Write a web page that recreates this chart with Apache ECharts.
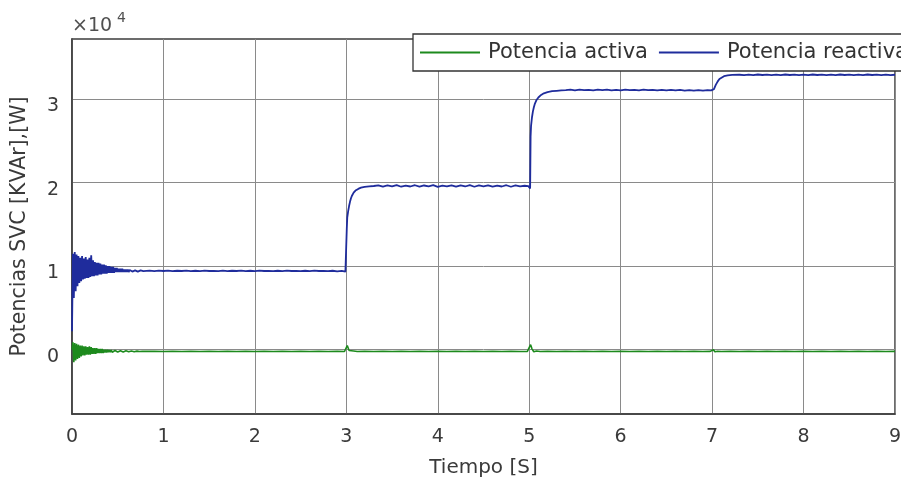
<!DOCTYPE html>
<html>
<head>
<meta charset="utf-8">
<script src="https://cdn.jsdelivr.net/npm/echarts@6/dist/echarts.min.js"></script>
<style>
  html, body { margin: 0; padding: 0; background: #ffffff; }
  #chart { width: 901px; height: 482px; }
</style>
</head>
<body>
<div id="chart"></div>
<script>
// Potencias del SVC (valores en unidades de 10^4), tiempo en segundos
const FONT = 'DejaVu Sans';

const xTicks = [0, 1, 2, 3, 4, 5, 6, 7, 8, 9];
const yTicks = [0, 1, 2, 3];
const yRango = [-0.77, 3.72];
const exponente = '4';

const nombres = ['Potencia activa', 'Potencia reactiva'];
const colores = ['#1d8a1d', '#1f2c9c'];

// Potencia activa [W] x 10^4 : pares [t, P]
const potActiva = [
  [0.00, 0.00], [0.01, 0.09], [0.02, -0.15], [0.03, 0.08], [0.04, -0.13], [0.05, 0.07], [0.06, -0.11], [0.07, 0.06], [0.08, -0.10], [0.09, 0.05],
  [0.10, -0.08], [0.11, 0.05], [0.12, -0.07], [0.13, 0.04], [0.14, -0.07], [0.15, 0.04], [0.16, -0.06], [0.17, 0.03], [0.18, -0.06], [0.19, 0.04],
  [0.20, -0.06], [0.21, 0.03], [0.22, -0.05], [0.23, 0.02], [0.24, -0.05], [0.25, 0.02], [0.26, -0.05], [0.27, 0.02], [0.28, -0.04], [0.29, 0.01],
  [0.30, -0.04], [0.31, 0.01], [0.32, -0.04], [0.33, 0.01], [0.34, -0.04], [0.35, 0.00], [0.36, -0.035], [0.37, 0.00], [0.38, -0.035], [0.39, 0.00],
  [0.40, -0.03], [0.41, -0.005], [0.42, -0.03], [0.43, -0.005], [0.44, -0.03], [0.45, -0.01], [0.46, -0.03], [0.47, -0.01], [0.48, -0.03], [0.49, -0.01],
  [0.50, -0.028], [0.51, -0.012], [0.52, -0.028], [0.53, -0.012], [0.54, -0.027], [0.55, -0.013], [0.56, -0.027], [0.57, -0.013], [0.58, -0.026], [0.59, -0.014],
  [0.60, -0.026], [0.61, -0.014], [0.62, -0.025], [0.63, -0.015], [0.64, -0.025], [0.65, -0.015], [0.66, -0.024], [0.67, -0.016], [0.68, -0.024], [0.69, -0.016],
  [0.70, -0.023], [0.71, -0.017], [0.72, -0.023], [0.73, -0.017], [0.74, -0.022], [0.75, -0.018], [0.76, -0.022], [0.77, -0.018], [0.78, -0.021], [0.79, -0.019],
  [0.80, -0.020], [0.90, -0.018], [1.00, -0.022], [1.10, -0.019], [1.20, -0.021], [1.30, -0.018], [1.40, -0.022], [1.50, -0.019], [1.60, -0.021], [1.70, -0.018],
  [1.80, -0.022], [1.90, -0.019], [2.00, -0.021], [2.10, -0.018], [2.20, -0.022], [2.30, -0.019], [2.40, -0.021], [2.50, -0.018], [2.60, -0.022], [2.70, -0.019],
  [2.80, -0.021], [2.90, -0.018], [2.98, -0.022], [3.00, -0.020], [3.01, 0.05], [3.02, 0.02], [3.03, -0.01], [3.05, -0.025], [3.08, -0.015], [3.12, -0.022],
  [3.20, -0.019], [3.30, -0.021], [3.40, -0.018], [3.50, -0.022], [3.60, -0.019], [3.70, -0.021], [3.80, -0.018], [3.90, -0.022], [4.00, -0.019], [4.10, -0.021],
  [4.20, -0.018], [4.30, -0.022], [4.40, -0.019], [4.50, -0.021], [4.60, -0.018], [4.70, -0.022], [4.80, -0.019], [4.90, -0.021], [4.98, -0.020], [5.00, -0.020],
  [5.015, 0.06], [5.03, 0.01], [5.05, -0.025], [5.08, -0.015], [5.12, -0.022], [5.20, -0.019], [5.30, -0.021], [5.40, -0.018], [5.50, -0.022], [5.60, -0.019],
  [5.70, -0.021], [5.80, -0.018], [5.90, -0.022], [6.00, -0.019], [6.10, -0.021], [6.20, -0.018], [6.30, -0.022], [6.40, -0.019], [6.50, -0.021], [6.60, -0.018],
  [6.70, -0.022], [6.80, -0.019], [6.90, -0.021], [6.98, -0.020], [7.00, -0.020], [7.015, 0.00], [7.03, -0.025], [7.06, -0.018], [7.10, -0.021], [7.20, -0.019],
  [7.30, -0.021], [7.40, -0.018], [7.50, -0.022], [7.60, -0.019], [7.70, -0.021], [7.80, -0.018], [7.90, -0.022], [8.00, -0.019], [8.10, -0.021], [8.20, -0.018],
  [8.30, -0.022], [8.40, -0.019], [8.50, -0.021], [8.60, -0.018], [8.70, -0.022], [8.80, -0.019], [8.90, -0.021], [9.00, -0.020]
];

// Potencia reactiva [KVAr] x 10^4 : pares [t, Q]
const potReactiva = [
  [0.00, 0.22], [0.01, 1.15], [0.02, 0.62], [0.03, 1.17], [0.04, 0.70], [0.05, 1.14], [0.06, 0.76], [0.07, 1.12], [0.08, 0.80], [0.09, 1.10],
  [0.10, 0.82], [0.11, 1.12], [0.12, 0.84], [0.13, 1.09], [0.14, 0.85], [0.15, 1.11], [0.16, 0.86], [0.17, 1.08], [0.18, 0.86], [0.19, 1.10],
  [0.20, 0.87], [0.21, 1.13], [0.22, 0.88], [0.23, 1.07], [0.24, 0.88], [0.25, 1.05], [0.26, 0.89], [0.27, 1.04], [0.28, 0.89], [0.29, 1.04],
  [0.30, 0.90], [0.31, 1.03], [0.32, 0.90], [0.33, 1.02], [0.34, 0.91], [0.35, 1.02], [0.36, 0.91], [0.37, 1.01], [0.38, 0.91], [0.39, 1.00],
  [0.40, 0.92], [0.41, 1.00], [0.42, 0.92], [0.43, 0.99], [0.44, 0.92], [0.45, 0.99], [0.46, 0.92], [0.47, 0.98], [0.48, 0.93], [0.49, 0.98],
  [0.50, 0.93], [0.51, 0.97], [0.52, 0.93], [0.53, 0.97], [0.54, 0.93], [0.55, 0.97], [0.56, 0.93], [0.57, 0.96], [0.58, 0.93], [0.59, 0.96],
  [0.60, 0.93], [0.61, 0.96], [0.62, 0.93], [0.63, 0.955], [0.64, 0.935], [0.65, 0.955], [0.66, 0.935], [0.67, 0.955], [0.68, 0.935], [0.69, 0.95],
  [0.70, 0.935], [0.71, 0.95], [0.72, 0.935], [0.73, 0.95], [0.74, 0.94], [0.75, 0.95], [0.76, 0.94], [0.77, 0.95], [0.78, 0.94], [0.79, 0.95],
  [0.80, 0.94], [0.85, 0.946], [0.90, 0.941], [0.95, 0.947], [1.00, 0.942], [1.05, 0.946], [1.10, 0.940], [1.15, 0.945], [1.20, 0.942], [1.25, 0.947],
  [1.30, 0.941], [1.35, 0.945], [1.40, 0.940], [1.45, 0.946], [1.50, 0.942], [1.55, 0.944], [1.60, 0.940], [1.65, 0.946], [1.70, 0.941], [1.75, 0.945],
  [1.80, 0.942], [1.85, 0.946], [1.90, 0.940], [1.95, 0.945], [2.00, 0.941], [2.05, 0.946], [2.10, 0.942], [2.15, 0.944], [2.20, 0.940], [2.25, 0.945],
  [2.30, 0.941], [2.35, 0.946], [2.40, 0.942], [2.45, 0.944], [2.50, 0.940], [2.55, 0.945], [2.60, 0.941], [2.65, 0.946], [2.70, 0.942], [2.75, 0.944],
  [2.80, 0.940], [2.85, 0.945], [2.90, 0.938], [2.95, 0.943], [2.99, 0.935], [3.00, 0.925], [3.005, 1.45], [3.01, 1.58], [3.02, 1.66], [3.03, 1.72],
  [3.04, 1.77], [3.05, 1.81], [3.06, 1.84], [3.08, 1.88], [3.10, 1.905], [3.13, 1.925], [3.16, 1.94], [3.20, 1.95], [3.25, 1.955], [3.30, 1.96],
  [3.35, 1.968], [3.40, 1.952], [3.45, 1.966], [3.50, 1.955], [3.55, 1.970], [3.60, 1.951], [3.65, 1.965], [3.70, 1.954], [3.75, 1.969], [3.80, 1.952],
  [3.85, 1.966], [3.90, 1.956], [3.95, 1.970], [4.00, 1.950], [4.05, 1.965], [4.10, 1.955], [4.15, 1.968], [4.20, 1.952], [4.25, 1.967], [4.30, 1.954],
  [4.35, 1.970], [4.40, 1.951], [4.45, 1.966], [4.50, 1.955], [4.55, 1.968], [4.60, 1.952], [4.65, 1.965], [4.70, 1.954], [4.75, 1.969], [4.80, 1.951],
  [4.85, 1.966], [4.90, 1.955], [4.95, 1.963], [4.99, 1.958], [5.00, 1.945], [5.01, 1.93], [5.015, 2.55], [5.02, 2.68], [5.03, 2.78], [5.04, 2.85],
  [5.05, 2.90], [5.06, 2.94], [5.08, 2.99], [5.10, 3.02], [5.13, 3.05], [5.16, 3.07], [5.20, 3.085], [5.25, 3.095], [5.30, 3.10], [5.35, 3.105],
  [5.40, 3.108], [5.45, 3.113], [5.50, 3.106], [5.55, 3.114], [5.60, 3.107], [5.65, 3.112], [5.70, 3.105], [5.75, 3.113], [5.80, 3.108], [5.85, 3.114],
  [5.90, 3.106], [5.95, 3.112], [6.00, 3.105], [6.05, 3.113], [6.10, 3.107], [6.15, 3.112], [6.20, 3.106], [6.25, 3.114], [6.30, 3.107], [6.35, 3.111],
  [6.40, 3.105], [6.45, 3.112], [6.50, 3.106], [6.55, 3.110], [6.60, 3.104], [6.65, 3.111], [6.70, 3.103], [6.75, 3.109], [6.80, 3.103], [6.85, 3.108],
  [6.90, 3.102], [6.95, 3.107], [6.99, 3.105], [7.00, 3.10], [7.01, 3.11], [7.02, 3.12], [7.04, 3.17], [7.06, 3.21], [7.08, 3.24], [7.10, 3.26],
  [7.13, 3.275], [7.17, 3.285], [7.22, 3.29], [7.30, 3.292], [7.35, 3.287], [7.40, 3.294], [7.45, 3.288], [7.50, 3.295], [7.55, 3.289], [7.60, 3.293],
  [7.65, 3.287], [7.70, 3.294], [7.75, 3.288], [7.80, 3.295], [7.85, 3.289], [7.90, 3.293], [7.95, 3.287], [8.00, 3.294], [8.05, 3.288], [8.10, 3.295],
  [8.15, 3.289], [8.20, 3.293], [8.25, 3.287], [8.30, 3.294], [8.35, 3.288], [8.40, 3.295], [8.45, 3.289], [8.50, 3.293], [8.55, 3.287], [8.60, 3.294],
  [8.65, 3.288], [8.70, 3.295], [8.75, 3.289], [8.80, 3.293], [8.85, 3.287], [8.90, 3.294], [8.95, 3.288], [9.00, 3.292]
];

const chart = echarts.init(document.getElementById('chart'), null, { renderer: 'canvas' });

const textoEje = { fontFamily: FONT, color: '#3a3a3a' };

chart.setOption({
  animation: false,
  backgroundColor: '#ffffff',
  grid: {
    left: 72, right: 6, top: 39, bottom: 68,
    outerBoundsMode: 'none',
    containLabel: false,
    show: true,
    borderColor: '#3c3c3c',
    borderWidth: 1.5,
    backgroundColor: '#ffffff'
  },
  legend: {
    data: nombres,
    left: 413, top: 34, width: 800,
    orient: 'horizontal',
    padding: [8, 8, 8, 7],
    icon: 'rect',
    itemWidth: 60, itemHeight: 2, itemGap: 11,
    backgroundColor: '#ffffff',
    borderColor: '#333333', borderWidth: 1.3, borderRadius: 0,
    textStyle: { fontFamily: FONT, fontSize: 21, color: '#333333', padding: [0, 0, 0, 3] }
  },
  xAxis: {
    type: 'value',
    min: xTicks[0], max: xTicks[xTicks.length - 1], interval: 1,
    name: 'Tiempo [S]',
    nameLocation: 'middle', nameGap: 44,
    nameTextStyle: Object.assign({ fontSize: 20 }, textoEje),
    axisLine: { show: true, onZero: false, lineStyle: { color: '#3c3c3c', width: 1.5 } },
    axisTick: { show: false },
    axisLabel: Object.assign({ fontSize: 19, margin: 14 }, textoEje),
    splitLine: { show: true, lineStyle: { color: '#8a8a8a', width: 1 } }
  },
  yAxis: {
    type: 'value',
    min: yRango[0], max: yRango[1],
    name: 'Potencias SVC [KVAr],[W]',
    nameLocation: 'middle', nameGap: 42,
    nameTextStyle: Object.assign({ fontSize: 20.5 }, textoEje),
    axisLine: { show: true, onZero: false, lineStyle: { color: '#3c3c3c', width: 1.5 } },
    axisTick: { show: false, customValues: yTicks },
    axisLabel: Object.assign({ fontSize: 19, margin: 13, customValues: yTicks, verticalAlign: 'top', lineHeight: 14 }, textoEje),
    splitLine: { show: true, lineStyle: { color: '#8a8a8a', width: 1 } }
  },
  graphic: [
    { type: 'text', left: 72, top: 17, style: { text: '\u00d710', fontFamily: FONT, fontSize: 19, fill: '#505050' } },
    { type: 'text', left: 117, top: 11, style: { text: exponente, fontFamily: FONT, fontSize: 14, fill: '#505050' } }
  ],
  series: [
    {
      name: nombres[0], type: 'line', data: potActiva,
      symbol: 'none', showSymbol: false, z: 3,
      itemStyle: { color: colores[0] },
      lineStyle: { color: colores[0], width: 1.6 }
    },
    {
      name: nombres[1], type: 'line', data: potReactiva,
      symbol: 'none', showSymbol: false, z: 4,
      itemStyle: { color: colores[1] },
      lineStyle: { color: colores[1], width: 1.8 }
    }
  ]
});
</script>
</body>
</html>
